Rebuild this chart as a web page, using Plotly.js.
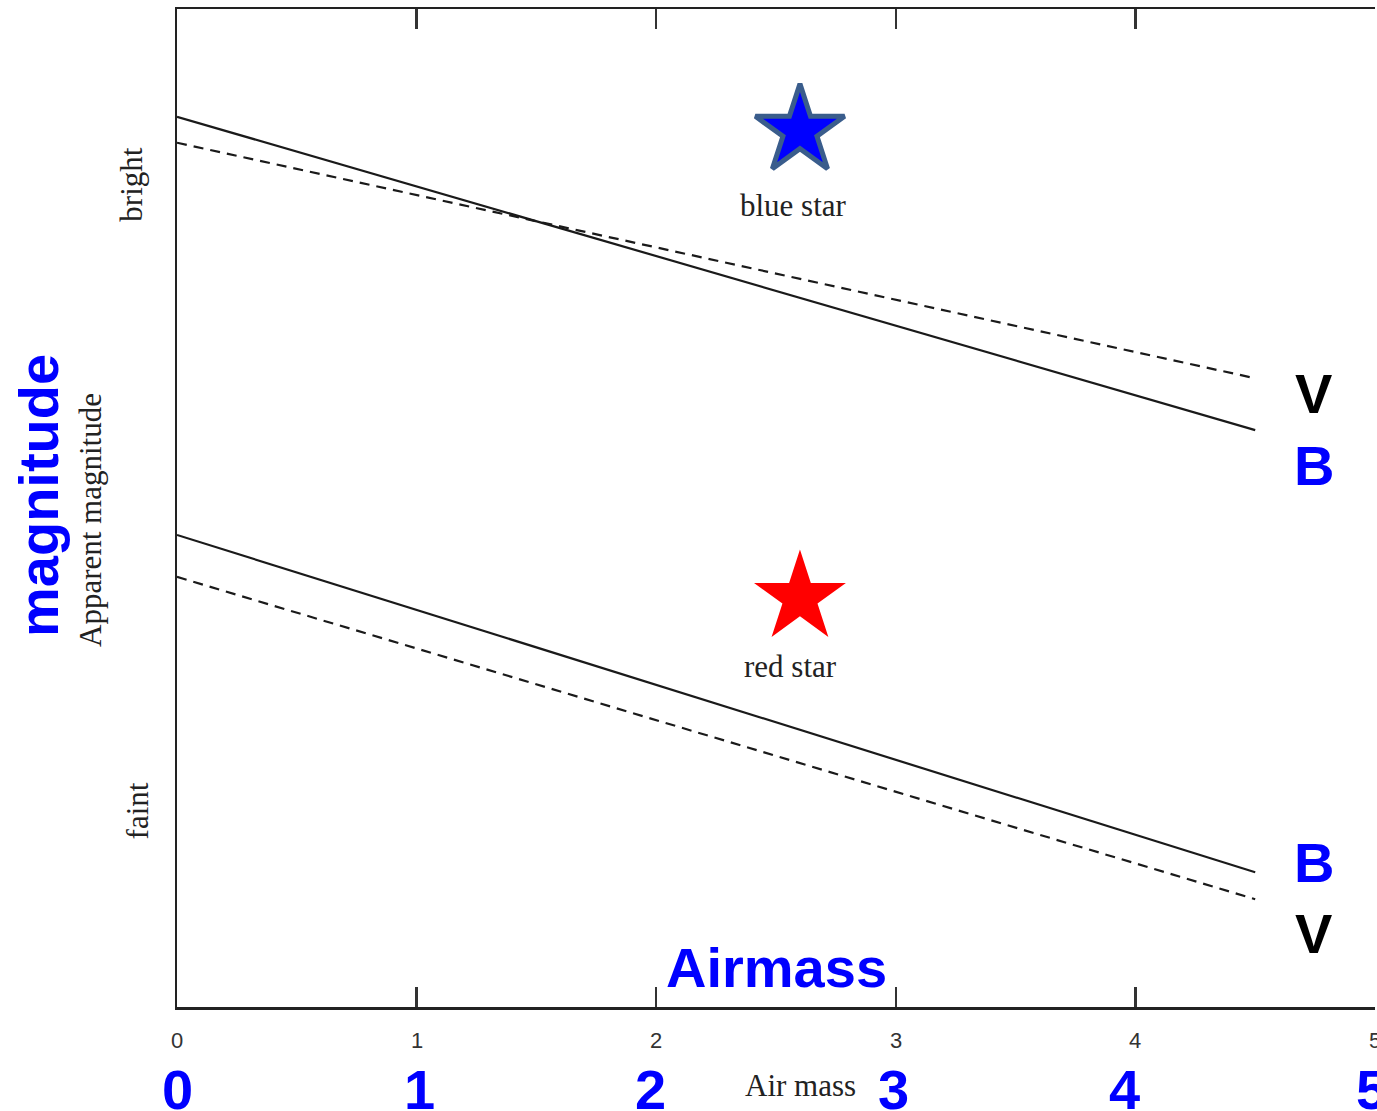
<!DOCTYPE html>
<html>
<head>
<meta charset="utf-8">
<script src="https://cdn.plot.ly/plotly-3.0.1.min.js"></script>
<style>html,body{margin:0;padding:0;background:#fff;}#chart{width:1377px;height:1111px;}</style>
</head>
<body>
<div id="chart"></div>
<script>
// ---- data ----
const airmass = [0, 4.5];
const blueStarB = [1.08, 4.22];   // solid
const blueStarV = [1.34, 3.70];   // dashed
const redStarB  = [5.27, 8.65];   // solid
const redStarV  = [5.69, 8.92];   // dashed
const starX = [2.6, 2.6];
const starY = [1.22, 5.90];
const starColors = ['#0000ff', '#ff0000'];
const starNames = ['blue star', 'red star'];
const tickVals = [0, 1, 2, 3, 4, 5];
const tickText = ['0', '1', '2', '3', '4', '5'];
const bigTickText = ['0', '1', '2', '3', '4', '5'];
const bigTickShift = [0, 3, -6, -2, -11, -4];
const endLabelsTop = ['V', 'B'];
const endLabelsBottom = ['B', 'V'];

const lineColor = '#1a1a1a';
const traces = [
  {x: airmass, y: blueStarB, mode: 'lines', line: {color: lineColor, width: 2.2}},
  {x: airmass, y: blueStarV, mode: 'lines', line: {color: lineColor, width: 2.2, dash: '10px,7px'}},
  {x: airmass, y: redStarB, mode: 'lines', line: {color: lineColor, width: 2.2}},
  {x: airmass, y: redStarV, mode: 'lines', line: {color: lineColor, width: 2.2, dash: '10px,7px'}},
  {x: [starX[0]], y: [starY[0]], mode: 'markers',
   marker: {symbol: 'star', size: 67, color: starColors[0], line: {color: '#3a5d8c', width: 5}}},
  {x: [starX[1]], y: [starY[1]], mode: 'markers',
   marker: {symbol: 'star', size: 69, color: starColors[1], line: {width: 0}}}
];

const serif = 'Liberation Serif, Times New Roman, serif';
const sans = 'Liberation Sans, Arial, sans-serif';
const serifFont = {family: serif, size: 31, color: '#222'};
const annotations = [];
// star labels
annotations.push({x: starX[0], y: 1.97, xref: 'x', yref: 'y', text: starNames[0], showarrow: false,
  font: serifFont, xshift: -6});
annotations.push({x: starX[1], y: 6.59, xref: 'x', yref: 'y', text: starNames[1], showarrow: false,
  font: serifFont, xshift: -9});
// end labels V/B
const bigFont = (c) => ({family: sans, size: 56, color: c, weight: 'bold'});
const labColor = {V: '#000000', B: '#0000ff'};
annotations.push({x: 4.745, y: 3.85, text: endLabelsTop[0], showarrow: false, font: bigFont(labColor[endLabelsTop[0]])});
annotations.push({x: 4.745, y: 4.57, text: endLabelsTop[1], showarrow: false, font: bigFont(labColor[endLabelsTop[1]])});
annotations.push({x: 4.745, y: 8.55, text: endLabelsBottom[0], showarrow: false, font: bigFont(labColor[endLabelsBottom[0]])});
annotations.push({x: 4.745, y: 9.26, text: endLabelsBottom[1], showarrow: false, font: bigFont(labColor[endLabelsBottom[1]])});
// Airmass big blue label
annotations.push({x: 2.5, y: 9.6, text: 'Airmass', showarrow: false, font: bigFont('#0000ff')});
// small tick numbers
tickVals.forEach((v, i) => {
  annotations.push({x: v, y: 0, xref: 'x', yref: 'paper', yanchor: 'middle', yshift: -33,
    text: tickText[i], showarrow: false, font: {family: sans, size: 22, color: '#333'}});
});
// big blue tick numbers
tickVals.forEach((v, i) => {
  annotations.push({x: v, y: 0, xref: 'x', yref: 'paper', yanchor: 'middle', yshift: -82,
    xshift: bigTickShift[i], text: bigTickText[i], showarrow: false, font: bigFont('#0000ff')});
});
// "Air mass" serif
annotations.push({x: 2.6, y: 0, xref: 'x', yref: 'paper', yanchor: 'middle', yshift: -78, xshift: 1,
  text: 'Air mass', showarrow: false, font: serifFont});
// y-side labels
annotations.push({x: 0, y: 0.5, xref: 'paper', yref: 'paper', xanchor: 'center', xshift: -87, yshift: -12,
  text: 'Apparent magnitude', textangle: -90, showarrow: false, font: serifFont});
annotations.push({x: 0, y: 0.5, xref: 'paper', yref: 'paper', xanchor: 'center', xshift: -139, yshift: 12,
  text: 'magnitude', textangle: -90, showarrow: false, font: bigFont('#0000ff')});
annotations.push({x: 0, y: 1.76, xref: 'paper', yref: 'y', xanchor: 'center', xshift: -45,
  text: 'bright', textangle: -90, showarrow: false, font: serifFont});
annotations.push({x: 0, y: 8.04, xref: 'paper', yref: 'y', xanchor: 'center', xshift: -40,
  text: 'faint', textangle: -90, showarrow: false, font: serifFont});

const layout = {
  width: 1377, height: 1111,
  margin: {l: 177, r: 2, t: 9, b: 104},
  paper_bgcolor: '#ffffff', plot_bgcolor: '#ffffff',
  showlegend: false,
  xaxis: {
    range: [0, 5], showgrid: false, zeroline: false,
    showline: true, linecolor: '#222', linewidth: 2.5, mirror: 'ticks',
    ticks: 'inside', ticklen: 20, tickwidth: 2.5, tickcolor: '#333',
    tickvals: tickVals, showticklabels: false
  },
  yaxis: {
    range: [10, 0], showgrid: false, zeroline: false,
    showline: true, linecolor: '#222', linewidth: 2.5, mirror: false,
    ticks: '', showticklabels: false
  },
  annotations: annotations
};

Plotly.newPlot('chart', traces, layout, {displayModeBar: false, staticPlot: true});
</script>
</body>
</html>
